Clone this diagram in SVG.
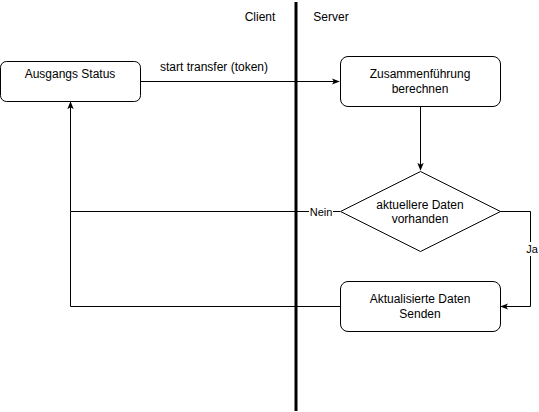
<svg xmlns="http://www.w3.org/2000/svg" width="539" height="412" viewBox="0 0 539 412">
<style>
.box{fill:#fff;stroke:#000;stroke-width:1}
.t{font-family:"Liberation Sans",Arial,sans-serif;font-size:12px;fill:#000;text-anchor:middle}
.e{fill:none;stroke:#000;stroke-width:1}
.lbl{font-family:"Liberation Sans",Arial,sans-serif;font-size:11px;fill:#000;text-anchor:middle}
</style>
<defs>
<marker id="arr" viewBox="0 0 10 10" refX="9" refY="5" markerWidth="8" markerHeight="8" markerUnits="userSpaceOnUse" orient="auto">
<path d="M0,1 L10,5 L0,9 L2.5,5 Z" fill="#000"/>
</marker>
</defs>
<rect width="539" height="412" fill="#fff"/>
<g id="divider">
<line x1="296" y1="2" x2="296" y2="411" stroke="#000" stroke-width="3"/>
<text class="t" x="260" y="21">Client</text>
<text class="t" x="331" y="21">Server</text>
</g>
<g id="connectors">
<path class="e" d="M140.5,81.5 H339" marker-end="url(#arr)"/>
<text class="t" x="214" y="71">start transfer (token)</text>
<path class="e" d="M420.5,106 V170" marker-end="url(#arr)"/>
<path class="e" d="M340,211.5 H70.5 V102" marker-end="url(#arr)"/>
<path class="e" d="M340,306.5 H70.5 V211.5"/>
<path class="e" d="M500,211.5 H530.5 V306.5 H501" marker-end="url(#arr)"/>
<rect x="309" y="205" width="24" height="14" fill="#fff"/>
<text class="lbl" x="321" y="216">Nein</text>
<rect x="525" y="242" width="14" height="14" fill="#fff"/>
<text class="lbl" x="532" y="253">Ja</text>
</g>
<g id="ausgangs">
<rect class="box" x="0.5" y="61.5" width="140" height="40" rx="6"/>
<text class="t" x="70" y="78">Ausgangs Status</text>
</g>
<g id="zusammen">
<rect class="box" x="340.5" y="56.5" width="160" height="50" rx="7.5"/>
<text class="t" x="420" y="78">Zusammenführung</text>
<text class="t" x="420" y="93">berechnen</text>
</g>
<g id="decision">
<path class="box" d="M420.5,171.5 L500.5,211.5 L420.5,251.5 L340.5,211.5 Z"/>
<text class="t" x="420" y="209">aktuellere Daten</text>
<text class="t" x="420" y="223">vorhanden</text>
</g>
<g id="aktualisiert">
<rect class="box" x="340.5" y="281.5" width="160" height="50" rx="7.5"/>
<text class="t" x="420" y="303">Aktualisierte Daten</text>
<text class="t" x="420" y="318">Senden</text>
</g>
</svg>
